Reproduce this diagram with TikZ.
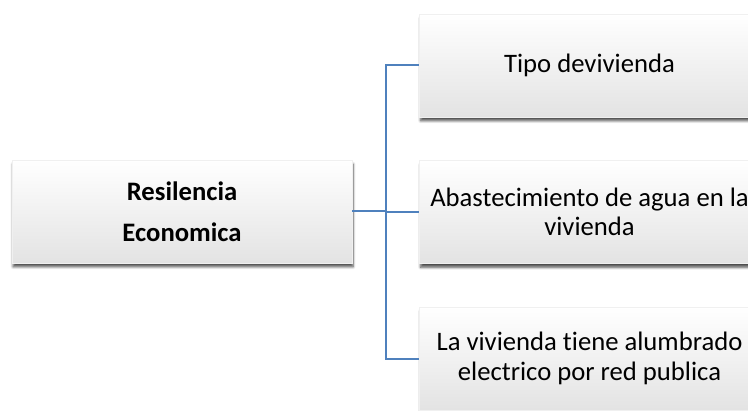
\documentclass[tikz,border=0pt]{standalone}
\usepackage{fontspec}
\setmainfont{Carlito}[Ligatures=NoCommon]
\usepackage{tikz}
\usetikzlibrary{shadows.blur, positioning, calc}
\definecolor{lineblue}{RGB}{79, 129, 189}
\tikzset{
  card/.style={draw=black!6, top color=white, bottom color=black!11,
    minimum width=255pt, minimum height=77pt, inner sep=2pt, align=center,
    blur shadow={shadow xshift=0.8pt, shadow yshift=-3pt, shadow blur steps=6,
      shadow blur extra rounding=0pt, shadow opacity=70},
    font=\fontsize{20}{22}\selectfont},
  rootcard/.style={card, font=\fontsize{20}{31}\selectfont\bfseries},
  link/.style={draw=lineblue, line width=1.5pt}
}

\begin{document}
\begin{tikzpicture}[x=0.75pt, y=0.75pt]
\useasboundingbox (0,0) rectangle (748,410);
\clip (0,0) rectangle (748,410);

% Root concept
\node[rootcard] (root) at (182,198.5) {Resilencia\\Economica};

% Indicators
\node[card] (tipo) at (589.5,344.5) {Tipo devivienda};
\node[card] (agua) at (589.5,198) {Abastecimiento de agua en la\\vivienda};
\node[card] (luz) at (589.5,51.5) {La vivienda tiene alumbrado\\electrico por red publica};

% Connectors
\coordinate (trunk) at (386,198.5);
\draw[link] (root.east) -- (trunk);
\draw[link] (trunk) |- (tipo.west);
\draw[link] (trunk) |- (agua.west);
\draw[link] (trunk) |- (luz.west);
\end{tikzpicture}
\end{document}
